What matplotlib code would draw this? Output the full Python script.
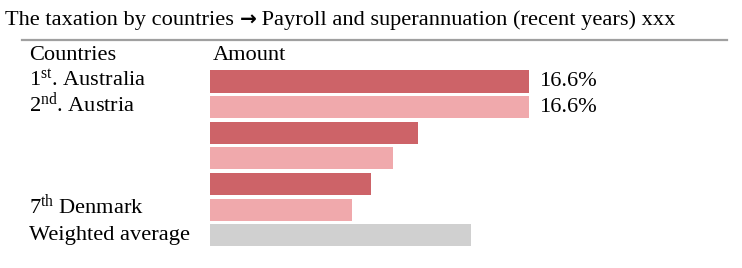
import matplotlib
matplotlib.use('Agg')
import matplotlib.pyplot as plt
from matplotlib.transforms import blended_transform_factory, offset_copy

plt.rcParams['font.family'] = ['Liberation Serif', 'DejaVu Serif']
plt.rcParams['mathtext.fontset'] = 'custom'
plt.rcParams['mathtext.rm'] = 'Liberation Serif'
plt.rcParams['mathtext.it'] = 'Liberation Serif:italic'

# data
title_parts = ["The taxation by countries ", "\u2192", " Payroll and superannuation (recent years) xxx"]
countries = [r"1$^{\rm st}$. Australia", r"2$^{\rm nd}$. Austria", "", "", "",
             r"7$^{\rm th}$ Denmark", "Weighted average"]
values = [16.6, 16.6, 10.8, 9.5, 8.4, 7.4, 13.6]
value_labels = ["16.6%", "16.6%", "", "", "", "", ""]
colors = ["#cd6368", "#f0a9ac", "#cd6368", "#f0a9ac", "#cd6368", "#f0a9ac", "#d0d0d0"]

W, H = 742, 268
fig = plt.figure(figsize=(W / 100, H / 100), dpi=100)

# axes placed in pixel terms: bars start at x=210, 16.6% reaches x=529
left, right = 210, 742
top, bottom = 68.7, 248.2
ax = fig.add_axes([left / W, 1 - bottom / H, (right - left) / W, (bottom - top) / H])
ax.set_xlim(0, (right - left) / 319 * 16.6)
ax.set_ylim(6.5, -0.5)
ax.axis('off')

ypos = list(range(len(values)))
ax.barh(ypos, values, height=0.86, color=colors)

fs = 16.1
# labels sit on a baseline a few pixels below the bar centre
lab = offset_copy(blended_transform_factory(fig.transFigure, ax.transData),
                  fig=fig, y=-4.5, units='dots')
val = offset_copy(ax.transData, fig=fig, y=-4.5, units='dots')
for y, name in zip(ypos, countries):
    ax.text(29 / W, y, name, transform=lab, va='baseline', ha='left', fontsize=fs)
for y, v, t in zip(ypos, values, value_labels):
    if t:
        ax.text(v + 0.55, y, t, transform=val, va='baseline', ha='left', fontsize=fs)

ax.text(29 / W, -1, "Countries", transform=lab, va='baseline', ha='left', fontsize=fs)
ax.text(213 / W, -1, "Amount", transform=lab, va='baseline', ha='left', fontsize=fs)

# title in pieces so the arrow can be bold
renderer = fig.canvas.get_renderer()
x0 = 5
fonts = [dict(fontsize=fs),
         dict(family='DejaVu Sans', weight='bold', fontsize=fs * 0.9),
         dict(fontsize=fs)]
for part, kw in zip(title_parts, fonts):
    t = fig.text(x0 / W, 1 - 25.5 / H, part, va='baseline', ha='left', **kw)
    x0 += t.get_window_extent(renderer).width

fig.add_artist(plt.Line2D([22 / W, 727 / W], [1 - 40 / H, 1 - 40 / H],
                          color='#a0a0a0', lw=1.6))

fig.savefig('out.png', dpi=100)
